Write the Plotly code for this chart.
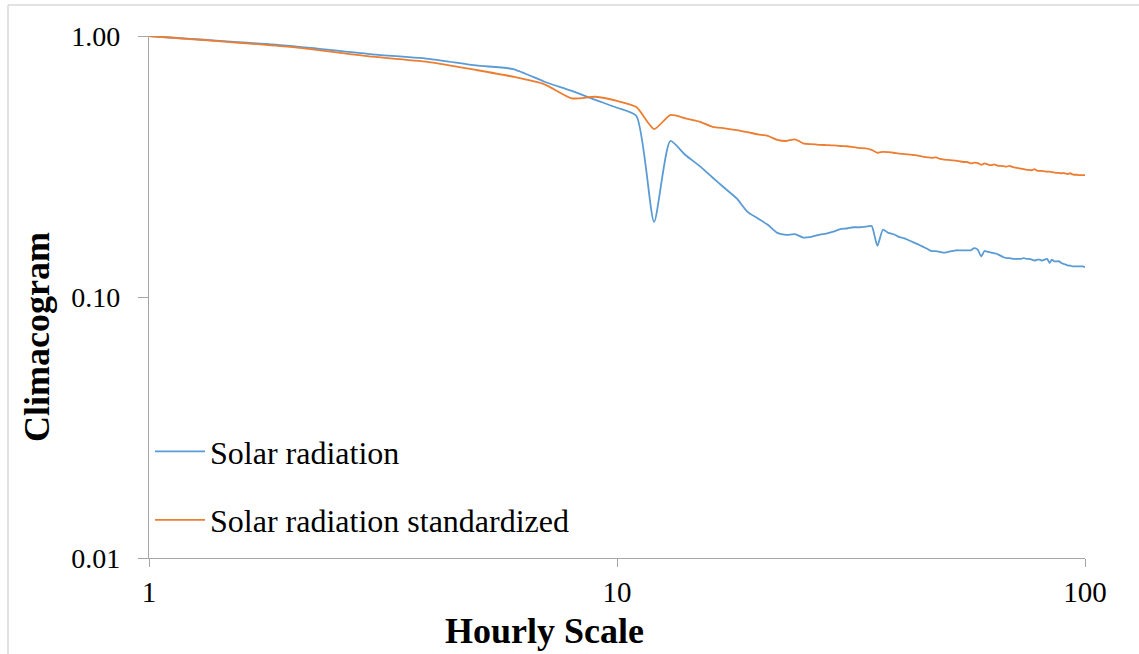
import plotly.graph_objects as go

# Hourly scales (1..100)
scales = list(range(1, 101))

solar_radiation = [
    1.000, 0.916, 0.851, 0.816, 0.771, 0.747, 0.668, 0.616, 0.569, 0.531,
    0.494, 0.194, 0.396, 0.350, 0.318, 0.287, 0.261, 0.239, 0.212, 0.200,
    0.189, 0.176, 0.173, 0.174, 0.169, 0.170, 0.173, 0.175, 0.178, 0.182,
    0.183, 0.185, 0.185, 0.186, 0.187, 0.157, 0.181, 0.176, 0.174, 0.170,
    0.168, 0.165, 0.162, 0.159, 0.156, 0.153, 0.150, 0.150, 0.149, 0.148,
    0.149, 0.150, 0.151, 0.151, 0.151, 0.151, 0.151, 0.154, 0.152, 0.143,
    0.150, 0.149, 0.148, 0.147, 0.146, 0.144, 0.142, 0.141, 0.141, 0.140,
    0.140, 0.140, 0.140, 0.141, 0.140, 0.140, 0.139, 0.138, 0.139, 0.139,
    0.138, 0.139, 0.140, 0.135, 0.139, 0.137, 0.137, 0.137, 0.135, 0.134,
    0.133, 0.132, 0.132, 0.131, 0.131, 0.131, 0.131, 0.131, 0.131, 0.130,
]

solar_radiation_std = [
    1.000, 0.908, 0.833, 0.793, 0.741, 0.698, 0.653, 0.577, 0.585, 0.564,
    0.534, 0.440, 0.498, 0.484, 0.470, 0.449, 0.443, 0.436, 0.428, 0.420,
    0.414, 0.400, 0.396, 0.402, 0.388, 0.385, 0.383, 0.382, 0.381, 0.379,
    0.378, 0.375, 0.372, 0.371, 0.366, 0.357, 0.360, 0.359, 0.357, 0.354,
    0.353, 0.352, 0.350, 0.348, 0.345, 0.343, 0.341, 0.343, 0.338, 0.336,
    0.335, 0.334, 0.333, 0.331, 0.329, 0.329, 0.325, 0.327, 0.326, 0.321,
    0.325, 0.322, 0.320, 0.322, 0.319, 0.318, 0.317, 0.316, 0.318, 0.315,
    0.313, 0.312, 0.310, 0.309, 0.307, 0.307, 0.306, 0.309, 0.305, 0.304,
    0.304, 0.303, 0.302, 0.302, 0.301, 0.300, 0.299, 0.299, 0.298, 0.299,
    0.297, 0.296, 0.298, 0.295, 0.294, 0.294, 0.293, 0.293, 0.293, 0.293,
]

x_tick_vals = [1, 10, 100]
x_tick_text = ["1", "10", "100"]
y_tick_vals = [0.01, 0.1, 1]
y_tick_text = ["0.01", "0.10", "1.00"]

series_names = ["Solar radiation", "Solar radiation standardized"]
series_colors = ["#5B9BD5", "#ED7D31"]

W, H = 1139, 654
L, R, T, B = 149, 54, 36, 96
pw, ph = W - L - R, H - T - B

def px_x(p):
    return (p - L) / pw

def px_y(p):
    return (H - B - p) / ph

FONT = "Liberation Serif, Times New Roman, serif"

fig = go.Figure()
for i, (vals, name, col) in enumerate(zip([solar_radiation, solar_radiation_std], series_names, series_colors)):
    fig.add_trace(go.Scatter(
        x=scales, y=vals, mode="lines", name=name,
        line=dict(color=col, width=1.8, shape="spline", smoothing=0.6),
        legendgroup=f"g{i}",
    ))

fig.update_layout(
    width=W, height=H,
    margin=dict(l=L, r=R, t=T, b=B),
    paper_bgcolor="white", plot_bgcolor="white",
    font=dict(family=FONT, color="black", size=28),
    showlegend=True,
    legend=dict(
        x=px_x(150), y=px_y(424), xanchor="left", yanchor="top",
        bgcolor="rgba(0,0,0,0)", borderwidth=0,
        font=dict(family=FONT, size=32, color="black"),
        traceorder="grouped", tracegroupgap=24, itemwidth=50,
    ),
    xaxis=dict(
        type="log", range=[0, 2], tickvals=x_tick_vals, ticktext=x_tick_text,
        showgrid=False, zeroline=False, showline=True, linecolor="#a6a6a6", linewidth=1.3,
        ticks="outside", ticklen=8, tickcolor="#a6a6a6", tickwidth=1.3,
        tickfont=dict(family=FONT, size=29, color="black"),
    ),
    yaxis=dict(
        type="log", range=[-2, 0], tickvals=y_tick_vals, ticktext=y_tick_text,
        showgrid=False, zeroline=False, showline=True, linecolor="#a6a6a6", linewidth=1.3,
        ticks="outside", ticklen=10, tickcolor="#a6a6a6", tickwidth=1.3,
        tickfont=dict(family=FONT, size=28, color="black"),
        ticklabelstandoff=12,
    ),
    annotations=[
        dict(text="<b>Hourly Scale</b>", xref="paper", yref="paper",
             x=px_x(544), y=px_y(631), xanchor="center", yanchor="middle",
             showarrow=False, font=dict(family=FONT, size=36, color="black")),
        dict(text="<b>Climacogram</b>", xref="paper", yref="paper",
             x=px_x(37), y=px_y(337), xanchor="center", yanchor="middle", textangle=-90,
             showarrow=False, font=dict(family=FONT, size=36, color="black")),
    ],
    shapes=[
        dict(type="line", xref="paper", yref="paper", x0=px_x(8), x1=px_x(8), y0=px_y(5), y1=px_y(700),
             line=dict(color="#d9d9d9", width=1.5)),
        dict(type="line", xref="paper", yref="paper", x0=px_x(8), x1=px_x(1200), y0=px_y(5), y1=px_y(5),
             line=dict(color="#d9d9d9", width=1.5)),
    ],
)

fig.write_html(
    "out.html",
    config={"displayModeBar": False},
    post_script="document.body.style.margin='0';document.body.style.overflow='hidden';",
)
